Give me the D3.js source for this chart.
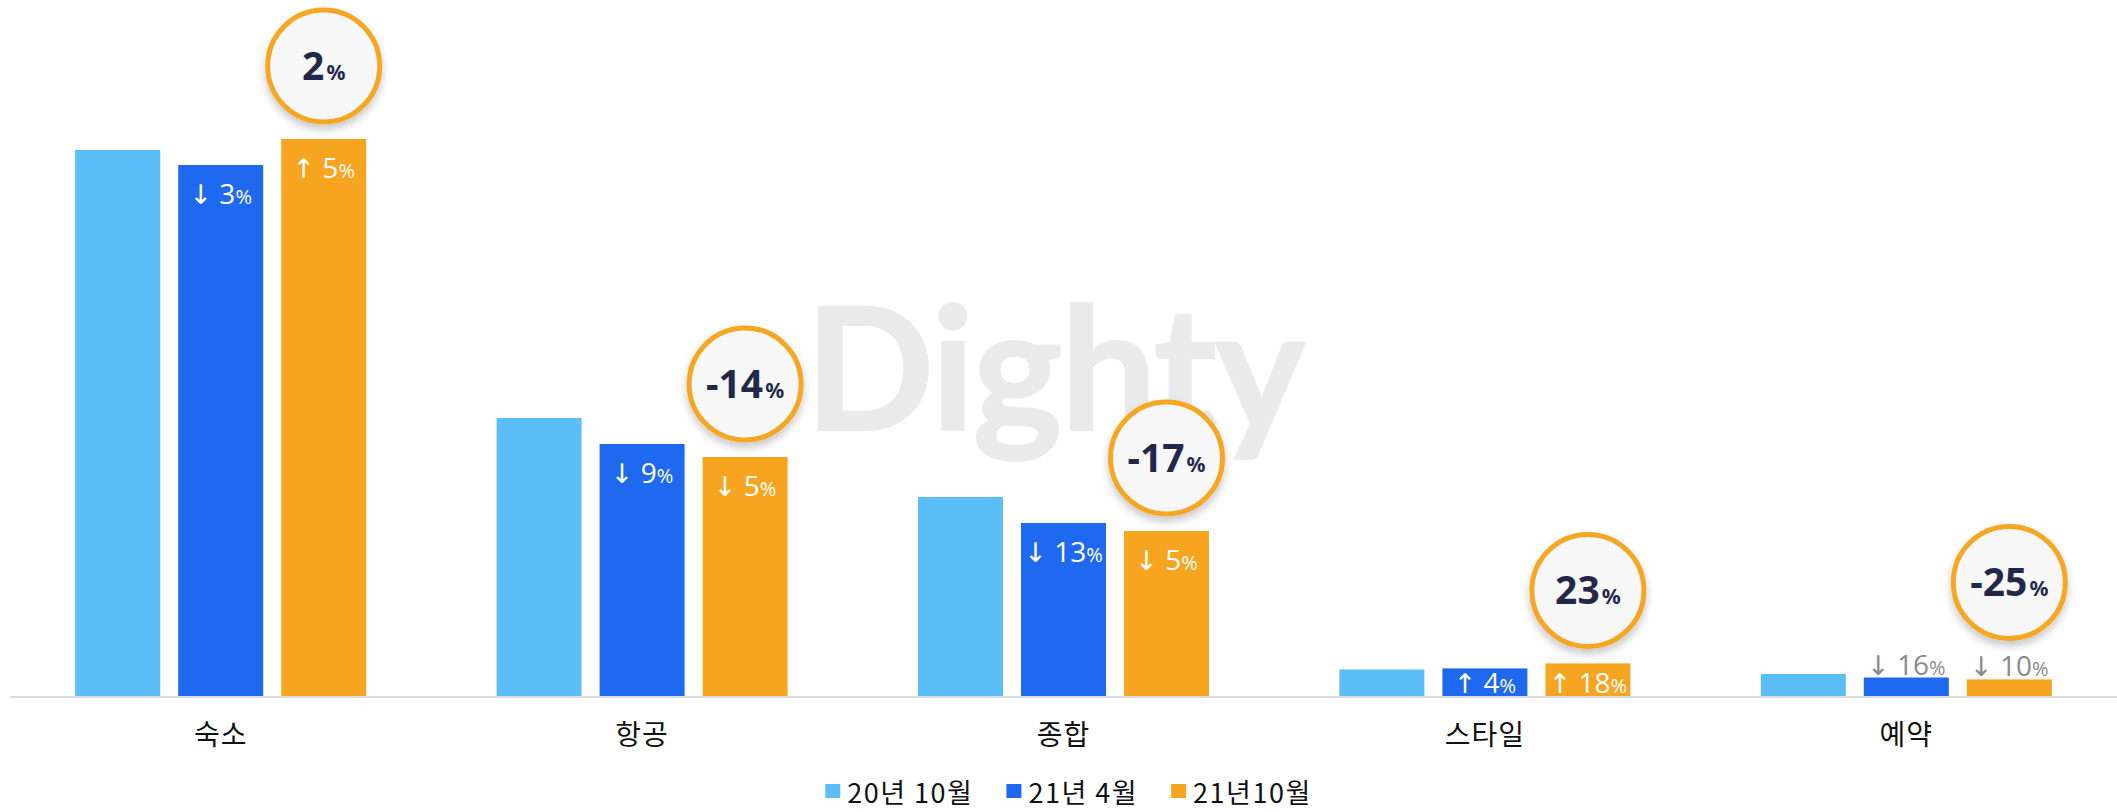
<!DOCTYPE html>
<html>
<head>
<meta charset="utf-8">
<script src="https://cdn.jsdelivr.net/npm/d3@7"></script>
<style>
  html, body { margin: 0; padding: 0; background: #ffffff; }
  svg { display: block; }
</style>
</head>
<body>
<svg id="chart" width="2117" height="812"></svg>
<script>
// ---- data ----
const categories = ["숙소", "항공", "종합", "스타일", "예약"];
const seriesNames = ["20년 10월", "21년 4월", "21년10월"];
const oct20 = [546, 278, 199, 26.5, 22];
const apr21 = [531, 252, 173, 27.6, 18.5];
const oct21 = [557, 239, 165, 32.6, 16.6];
const aprChange = [-3, -9, -13, 4, -16];   // 21년 4월 vs 20년 10월
const octChange = [5, -5, -5, 18, -10];    // 21년10월 vs 21년 4월
const yoyChange = [2, -14, -17, 23, -25];  // 21년10월 vs 20년 10월
const colors = ["#5BBEF9", "#1E69F0", "#F7A521"];

const W = 2117, H = 812;
const svg = d3.select("#chart");

const defs = svg.append("defs");
const f = defs.append("filter").attr("id", "shadow")
  .attr("x", "-30%").attr("y", "-30%").attr("width", "160%").attr("height", "170%");
f.append("feDropShadow").attr("dx", 0).attr("dy", 5).attr("stdDeviation", 4)
  .attr("flood-color", "#000").attr("flood-opacity", 0.22);

const x0 = d3.scaleBand().domain(categories).range([10, W]).paddingInner(0).paddingOuter(0);
const x1 = d3.scaleBand().domain(seriesNames).range([0, x0.bandwidth()])
  .paddingInner(0.175).paddingOuter(0.633);
const y = d3.scaleLinear().domain([0, 600]).range([696, 96]);

// watermark
svg.append("text")
  .attr("x", 1055).attr("y", 430)
  .attr("text-anchor", "middle")
  .attr("font-family", "Lato, 'Noto Sans', sans-serif")
  .attr("font-weight", 700)
  .attr("font-size", 170)
  .attr("fill", "#eaeaea")
  .attr("stroke", "#eaeaea").attr("stroke-width", 2).attr("stroke-linejoin", "round")
  .attr("textLength", 500).attr("lengthAdjust", "spacing")
  .text("Dighty");

const series = [oct20, apr21, oct21];
const rows = categories.map((c, i) => ({
  cat: c, i,
  vals: series.map((s, k) => ({ key: seriesNames[k], k, v: s[i] }))
}));

// axis baseline
svg.append("line")
  .attr("x1", x0.range()[0]).attr("x2", x0.range()[1])
  .attr("y1", y(0) + 1).attr("y2", y(0) + 1)
  .attr("stroke", "#dcdcdc").attr("stroke-width", 2);

const g = svg.selectAll("g.cat").data(rows).join("g")
  .attr("class", "cat")
  .attr("transform", d => `translate(${x0(d.cat)},0)`);

g.selectAll("rect").data(d => d.vals).join("rect")
  .attr("x", d => x1(d.key))
  .attr("y", d => y(d.v))
  .attr("width", x1.bandwidth())
  .attr("height", d => y(0) - y(d.v))
  .attr("fill", d => colors[d.k]);

// change labels
function labelPos(v) {
  const h = y(0) - y(v);
  if (h >= 45) return { y: y(v) + 38.5, fill: "#ffffff", above: false };
  if (h >= 25) return { y: y(0) - 3, fill: "#ffffff", above: false };
  return { y: y(v) - 3, fill: "#8a8a8a", above: true };
}
const changeSets = [null, aprChange, octChange];
g.each(function(d) {
  const sel = d3.select(this);
  [1, 2].forEach(k => {
    const ch = changeSets[k][d.i];
    const v = series[k][d.i];
    const p = labelPos(v);
    const t = sel.append("text")
      .attr("x", x1(seriesNames[k]) + x1.bandwidth() / 2)
      .attr("y", p.y)
      .attr("text-anchor", "middle")
      .attr("font-family", "'Open Sans', 'Noto Sans', sans-serif")
      .attr("font-weight", 400)
      .attr("fill", p.fill);
    t.append("tspan").attr("font-size", 27).attr("font-family", "'DejaVu Sans', sans-serif").text(ch < 0 ? "↓" : "↑");
    t.append("tspan").attr("font-size", 28).text(" " + Math.abs(ch));
    t.append("tspan").attr("font-size", 20).text("%");
  });
  // yoy circle
  const v = series[2][d.i];
  const p = labelPos(v);
  const anchor = p.above ? y(v) - 24 : y(v);
  const cx = x1(seriesNames[2]) + x1.bandwidth() / 2;
  const cy = anchor - 73;
  sel.append("circle")
    .attr("cx", cx).attr("cy", cy).attr("r", 56)
    .attr("fill", "#f7f7f7")
    .attr("stroke", "#F5A623").attr("stroke-width", 5)
    .attr("filter", "url(#shadow)");
  const ct = sel.append("text")
    .attr("x", cx).attr("y", cy + 14)
    .attr("text-anchor", "middle")
    .attr("font-family", "'Noto Sans', 'Open Sans', sans-serif")
    .attr("font-weight", 700)
    .attr("fill", "#23284A");
  ct.append("tspan").attr("font-size", 39).text(yoyChange[d.i]);
  ct.append("tspan").attr("font-size", 21).attr("dx", 2).text("%");
});

// category labels
svg.selectAll("text.catlab").data(categories).join("text")
  .attr("class", "catlab")
  .attr("x", d => x0(d) + x0.bandwidth() / 2)
  .attr("y", 745)
  .attr("text-anchor", "middle")
  .attr("font-family", "'Noto Sans CJK KR', 'Noto Sans', sans-serif")
  .attr("font-size", 28)
  .attr("letter-spacing", 1)
  .attr("fill", "#111")
  .text(d => d);

// legend
const leg = svg.append("g");
let lx = 0;
seriesNames.forEach((s, k) => {
  const it = leg.append("g");
  it.append("rect").attr("x", 0).attr("y", -7).attr("width", 15).attr("height", 14).attr("fill", colors[k]);
  const t = it.append("text").attr("x", 22).attr("y", 0)
    .attr("font-family", "'Noto Sans CJK KR', 'Noto Sans', sans-serif")
    .attr("font-size", 27).attr("letter-spacing", 1.5).attr("fill", "#111")
    .attr("dominant-baseline", "central")
    .text(s);
  const w = 22 + t.node().getComputedTextLength();
  it.attr("transform", `translate(${lx},0)`);
  lx += w + 33;
});
const legW = lx - 33;
leg.attr("transform", `translate(${(x0.range()[0] + x0.range()[1]) / 2 - legW / 2 + 5}, 791)`);
</script>
</body>
</html>
